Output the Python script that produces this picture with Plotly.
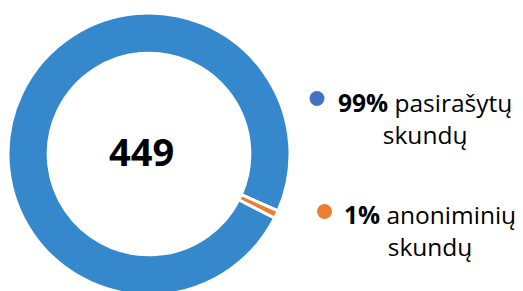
import plotly.graph_objects as go

labels = ["pasirašytų skundų", "anoniminių skundų"]
values = [445, 4]
colors = ["#3588cc", "#ED7D31"]
dot_colors = ["#4472C4", "#ED7D31"]

W, H = 515, 300
total = sum(values)

fig = go.Figure(go.Pie(
    labels=labels, values=values, hole=0.715, sort=False,
    direction="clockwise", rotation=117,
    marker=dict(colors=colors, line=dict(color="white", width=3)),
    textinfo="none", hoverinfo="label+percent",
    domain=dict(x=[0, 282 / W], y=[1 - 287 / H, 1 - 5 / H]),
    showlegend=False,
))

fig.add_annotation(text=f"<b>{total}</b>", x=133.7 / W, y=1 - 143 / H,
                   xref="paper", yref="paper", showarrow=False,
                   xanchor="center", yanchor="middle",
                   font=dict(family="Open Sans", size=38, color="black"))

legend_pos = [(416.5, 110, 309, 90.5), (422, 222, 316.5, 203.5)]
for lab, val, dc, (tx, ty, dx, dy) in zip(labels, values, dot_colors, legend_pos):
    first, second = lab.split(" ")
    pct = round(val / total * 100)
    fig.add_annotation(text=f"<b>{pct}%</b> {first}<br>{second}", x=tx / W, y=1 - ty / H,
                       xref="paper", yref="paper", showarrow=False, align="center",
                       xanchor="center", yanchor="middle",
                       font=dict(family="Open Sans", size=24.5, color="black"))
    r = 7.5
    fig.add_shape(type="circle", xref="paper", yref="paper",
                  x0=(dx - r) / W, x1=(dx + r) / W, y0=1 - (dy + r) / H, y1=1 - (dy - r) / H,
                  fillcolor=dc, line=dict(width=0))

fig.update_layout(width=W, height=H, margin=dict(l=0, r=0, t=0, b=0),
                  paper_bgcolor="white", plot_bgcolor="white")
fig.write_html("out.html")
